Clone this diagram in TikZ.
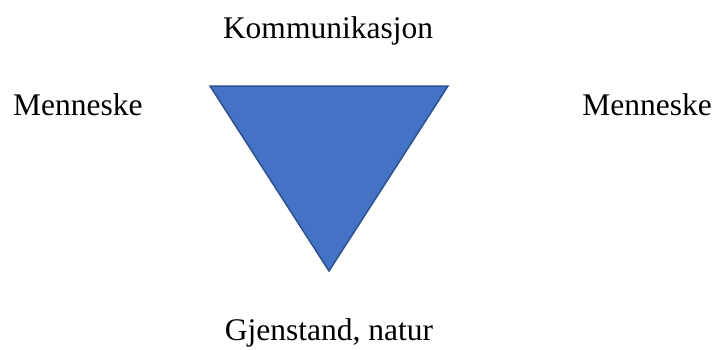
\documentclass[tikz,border=0pt]{standalone}
\usepackage{fontspec}
\setmainfont{Liberation Serif}
\definecolor{trifill}{HTML}{4472C4}
\definecolor{triline}{HTML}{2F528F}
\tikzset{
  lbl/.style={inner sep=0pt, anchor=base, font=\fontsize{31.5}{36}\selectfont},
  tri/.style={fill=trifill, draw=triline, line width=1.5pt, line join=miter}
}
\begin{document}
\begin{tikzpicture}[x=1pt,y=-1pt]
\useasboundingbox (0,0) rectangle (718,349);
\coordinate (tl) at (210,86);
\coordinate (tr) at (448,86);
\coordinate (bt) at (329,271);
\draw[tri] (tl) -- (tr) -- (bt) -- cycle;
\node[lbl] (komm) at (328,38) {Kommunikasjon};
\node[lbl,anchor=base west] (menL) at (13,115) {Menneske};
\node[lbl,anchor=base east] (menR) at (712,115) {Menneske};
\node[lbl] (gjen) at (329,340) {Gjenstand, natur};
\end{tikzpicture}
\end{document}
